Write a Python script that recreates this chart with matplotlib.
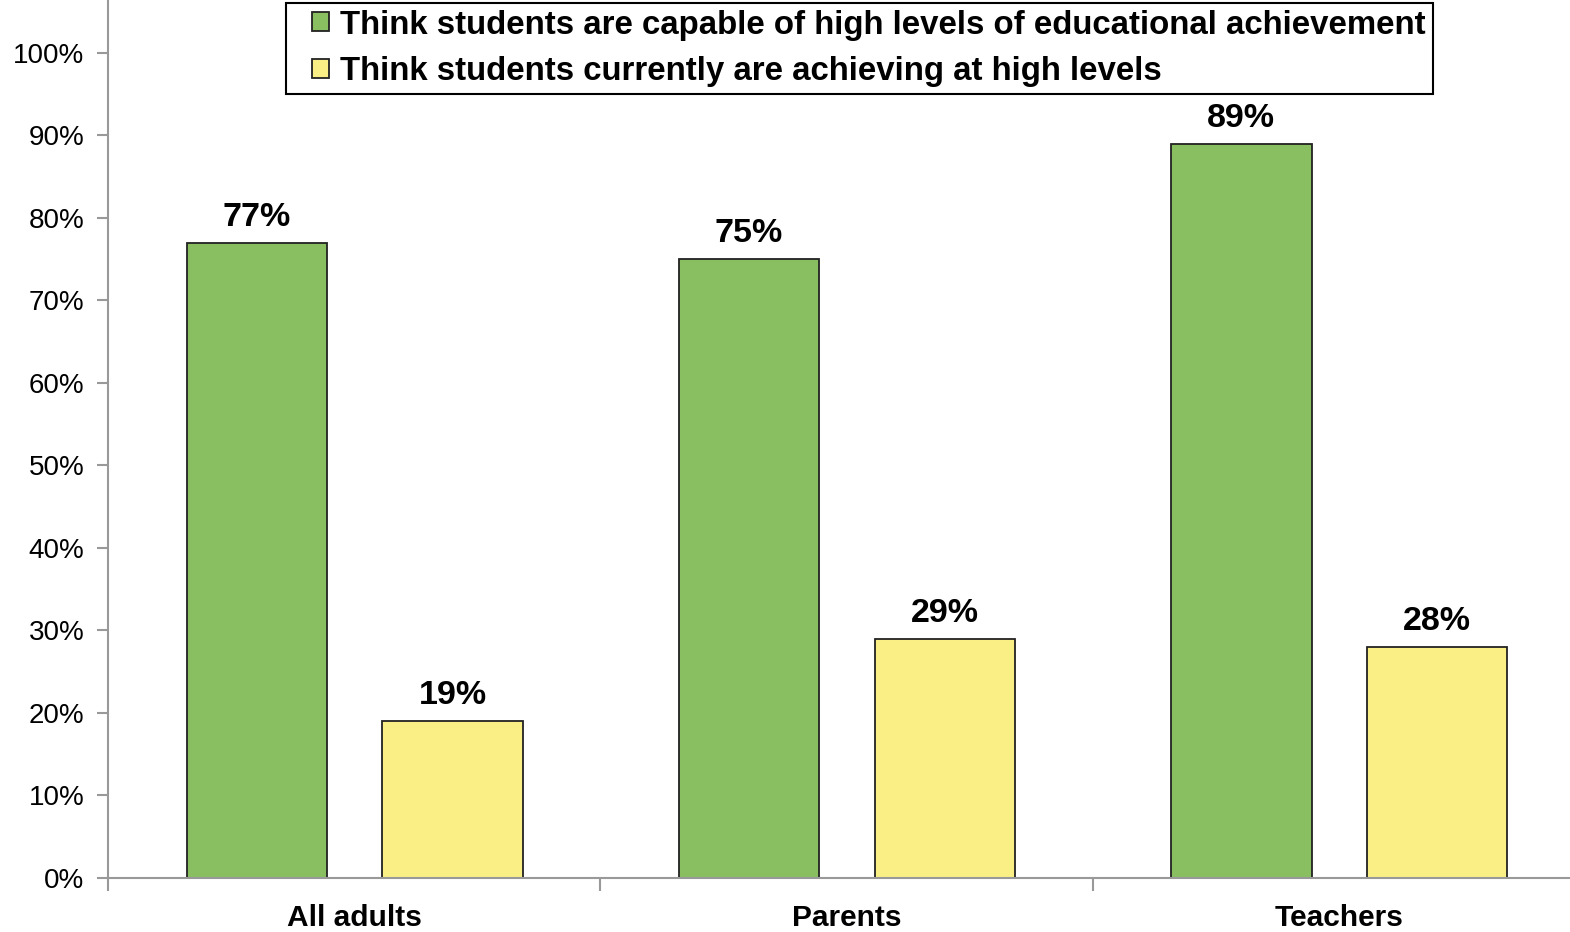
import numpy as np
import matplotlib.pyplot as plt
from matplotlib.ticker import PercentFormatter
from matplotlib.legend_handler import HandlerPatch
from matplotlib.patches import Rectangle

# data
groups = ["All adults", "Parents", "Teachers"]
capable = [77, 75, 89]
achieving = [19, 29, 28]
series_names = ["Think students are capable of high levels of educational achievement",
                "Think students currently are achieving at high levels"]

plt.rcParams['font.family'] = ['Liberation Sans', 'DejaVu Sans']

fig = plt.figure(figsize=(15.7, 9.32), dpi=100)
ax = fig.add_axes([108/1570, 54/932, 1477/1570, 878/932])

x = np.arange(len(groups))
w = 0.285
b1 = ax.bar(x - 0.198, capable, w, color="#89BF61", edgecolor="#222222", linewidth=1.3)
b2 = ax.bar(x + 0.2, achieving, w, color="#FAEF85", edgecolor="#222222", linewidth=1.3)

for bars, vals in [(b1, capable), (b2, achieving)]:
    for r, v in zip(bars, vals):
        ax.text(r.get_x() + r.get_width()/2, v + 1.2, "{}%".format(v),
                ha="center", va="bottom", fontsize=24.5, fontweight="bold")

ax.set_xlim(-0.5, 2.5)
ax.set_ylim(0, 106.4)
ax.set_yticks(np.arange(0, 101, 10))
ax.yaxis.set_major_formatter(PercentFormatter(decimals=0))
ax.set_xticks(x)
ax.set_xticklabels(groups, fontsize=21.5, fontweight="bold")
ax.set_xticks([-0.5, 0.5, 1.5, 2.5], minor=True)
ax.tick_params(axis="x", which="major", length=0, pad=19)
ax.tick_params(axis="x", which="minor", length=9, width=1.5, color="#999999")
ax.tick_params(axis="y", length=8, width=1.5, color="#999999", labelsize=20, pad=9)

for s in ["top", "right"]:
    ax.spines[s].set_visible(False)
for s in ["left", "bottom"]:
    ax.spines[s].set_color("#999999")
    ax.spines[s].set_linewidth(1.5)

# legend: small square markers set in from the frame
fs = 23.75
leg = ax.legend([b1[0], b2[0]], series_names,
                loc="upper left", bbox_to_anchor=(286/1570, 1 - 3/932),
                bbox_transform=fig.transFigure, borderaxespad=0,
                fancybox=False, edgecolor="black", framealpha=1,
                prop={"size": fs, "weight": "bold"},
                handler_map={Rectangle: HandlerPatch(xpad=0.6)},
                handlelength=1.1, handleheight=0.5, handletextpad=0.35,
                labelspacing=0.48, borderpad=0.2)
leg.get_frame().set_linewidth(1.5)

plt.savefig("out.png")
